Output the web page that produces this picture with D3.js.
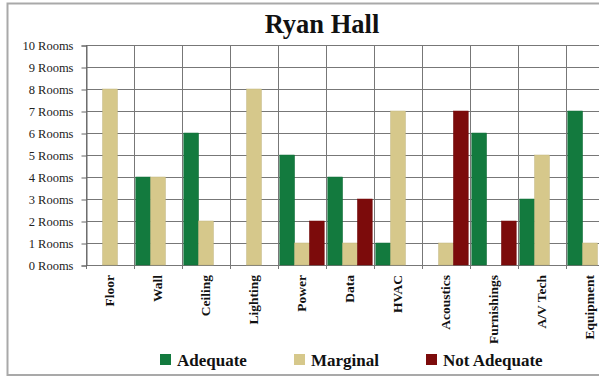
<!DOCTYPE html>
<html>
<head>
<meta charset="utf-8">
<script src="https://cdn.jsdelivr.net/npm/d3@7"></script>
<style>
html,body{margin:0;padding:0;background:#fff;}
svg{display:block;}
</style>
</head>
<body>
<svg id="chart" width="599" height="377"></svg>
<script>
const categories = ["Floor","Wall","Ceiling","Lighting","Power","Data","HVAC","Acoustics","Furnishings","A/V Tech","Equipment"];
const adequate    = [0,4,6,0,5,4,1,0,6,3,7];
const marginal    = [8,4,2,8,1,1,7,1,0,5,1];
const notAdequate = [0,0,0,0,2,3,0,7,2,0,0];
const seriesNames = ["Adequate","Marginal","Not Adequate"];
const seriesColors = ["#137a3e","#d6c88b","#7c0b0b"];
const yTicks = [0,1,2,3,4,5,6,7,8,9,10];
const yTickLabels = yTicks.map(v => v + " Rooms");
const title = "Ryan Hall";

const svg = d3.select("#chart");
const serif = "'Liberation Serif','Times New Roman',serif";

// outer frame
svg.append("rect").attr("x",7.5).attr("y",3.5).attr("width",620).attr("height",371.5)
  .attr("fill","#fff").attr("stroke","#a9a9a9").attr("stroke-width",2);

const x = d3.scaleBand().domain(categories).range([86,614]).paddingInner(0).paddingOuter(0);
const y = d3.scaleLinear().domain([0,10]).range([265,45]);
const xs = d3.scaleBand().domain(seriesNames).range([0,x.bandwidth()]).paddingInner(0).paddingOuter(0.12);

const g = svg.append("g");
// horizontal gridlines
g.selectAll("line.hg").data(yTicks).join("line")
  .attr("x1",86).attr("x2",614)
  .attr("y1",d=>Math.round(y(d))+0.5).attr("y2",d=>Math.round(y(d))+0.5)
  .attr("stroke","#777").attr("stroke-width",1);
// vertical gridlines
const bounds = categories.map(c=>x(c)).concat([x.range()[1]]);
g.selectAll("line.vg").data(bounds).join("line")
  .attr("x1",d=>Math.round(d)+0.5).attr("x2",d=>Math.round(d)+0.5)
  .attr("y1",y(10)).attr("y2",y(0)+4)
  .attr("stroke","#777").attr("stroke-width",1);

// y axis
const yAxis = d3.axisLeft(y).tickValues(yTicks).tickFormat((d,i)=>yTickLabels[i]).tickSize(5).tickPadding(8);
const ya = svg.append("g").attr("transform","translate(86.5,0.5)").call(yAxis);
ya.select(".domain").attr("stroke","#666");
ya.selectAll(".tick line").attr("stroke","#666");
ya.selectAll("text").attr("font-family",serif).attr("font-size",12.5).attr("fill","#222");

// bars
const data = [adequate, marginal, notAdequate];
const bg = svg.append("g");
data.forEach((vals,si)=>{
  bg.selectAll("rect.s"+si).data(categories).join("rect")
    .attr("x",d=>x(d)+xs(seriesNames[si]))
    .attr("width",xs.bandwidth())
    .attr("y",(d,i)=>y(vals[i]))
    .attr("height",(d,i)=>y(0)-y(vals[i]))
    .attr("fill",seriesColors[si])
    .attr("stroke",d3.color(seriesColors[si]).darker(0.3))
    .attr("stroke-width",0.5);
});

// x labels
svg.append("g").selectAll("text").data(categories).join("text")
  .attr("transform",d=>`translate(${x(d)+x.bandwidth()/2+4},${275}) rotate(-90)`)
  .attr("text-anchor","end")
  .attr("font-family",serif).attr("font-weight","bold").attr("font-size",13.5)
  .attr("fill","#111")
  .text(d=>d);

// title
svg.append("text").attr("x",322).attr("y",33).attr("text-anchor","middle")
  .attr("font-family",serif).attr("font-weight","bold").attr("font-size",26.5).attr("fill","#111")
  .text(title);

// legend
const legendX = [160,294,426];
const lg = svg.append("g");
seriesNames.forEach((n,i)=>{
  lg.append("rect").attr("x",legendX[i]).attr("y",354).attr("width",11).attr("height",11).attr("fill",seriesColors[i]);
  lg.append("text").attr("x",legendX[i]+17).attr("y",366)
    .attr("font-family",serif).attr("font-weight","bold").attr("font-size",17).attr("fill","#111")
    .text(n);
});
</script>
</body>
</html>
